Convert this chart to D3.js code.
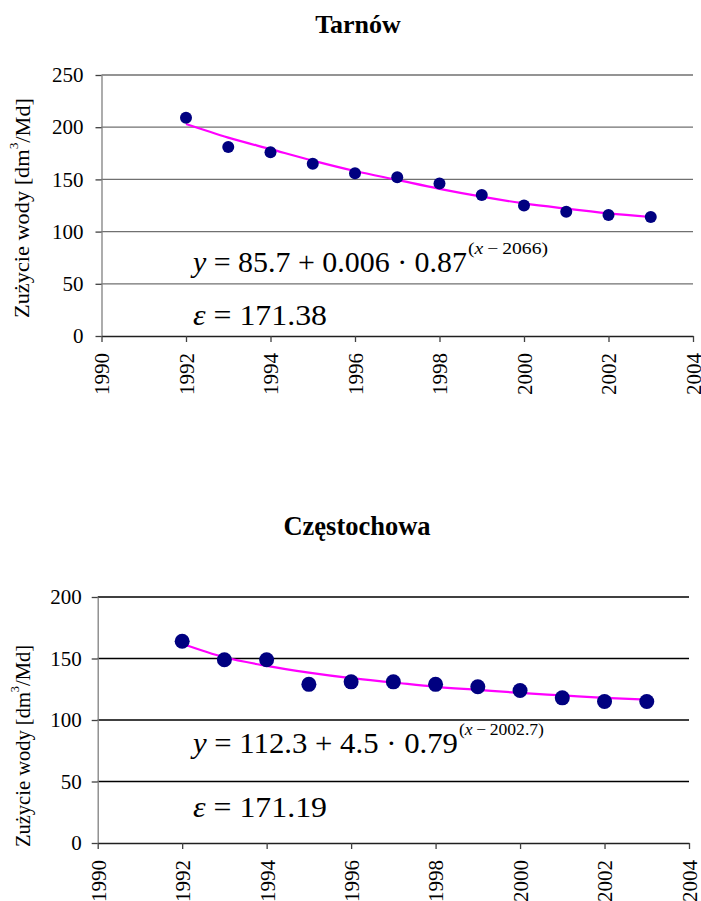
<!DOCTYPE html>
<html><head><meta charset="utf-8">
<script src="https://cdn.jsdelivr.net/npm/d3@7"></script>
<style>
body{margin:0;background:#fff;}
</style></head>
<body><svg id="c" width="701" height="901" font-family="Liberation Serif"></svg>
<script>
const years = [1992,1993,1994,1995,1996,1997,1998,1999,2000,2001,2002,2003];
const tarnowValues = [209,181,176,165,156,152,146,135,125,119,116,114];
const tarnowTrend  = [203,190,179,168,158,149.5,141,133.5,127,122,117.5,114];
const czestValues  = [164,149,149,129,131,131,129,127,124,118,115,115];
const czestTrend   = [162,151,144,138.5,134,130.5,127,124.5,122,120,118,116.5];
const xTicks = [1990,1992,1994,1996,1998,2000,2002,2004];
const tarnowYTicks = [0,50,100,150,200,250];
const czestYTicks = [0,50,100,150,200];

const FONT = "Liberation Serif";
const svg = d3.select("#c");

function drawChart(o){
  const g = svg.append("g").attr("font-family",FONT);
  const x = d3.scaleLinear().domain([1990,2004]).range([o.x0,o.x1]);
  const y = d3.scaleLinear().domain([0,o.yMax]).range([o.y1,o.y0]);
  g.selectAll(".grid").data(o.yTicks.filter(d=>d>0)).join("line")
    .attr("x1",o.x0).attr("x2",o.x1).attr("y1",d=>y(d)).attr("y2",d=>y(d))
    .attr("stroke",o.gridColor).attr("stroke-width",1.3);
  const ya = g.append("g").attr("transform",`translate(${o.x0},0)`)
    .call(d3.axisLeft(y).tickValues(o.yTicks).tickSize(6).tickPadding(o.yPad).tickSizeOuter(0));
  ya.attr("font-family",FONT);
  ya.select(".domain").attr("stroke","#808080").attr("stroke-width",1.3);
  ya.selectAll(".tick line").attr("stroke","#404040").attr("stroke-width",1.3);
  ya.selectAll("text").attr("font-size",o.fs).attr("fill","#000").attr("font-family",FONT);
  const xa = g.append("g").attr("transform",`translate(0,${o.y1})`)
    .call(d3.axisBottom(x).tickValues(xTicks).tickFormat(d3.format("d")).tickSize(6).tickSizeOuter(0));
  xa.attr("font-family",FONT);
  xa.select(".domain").attr("stroke","#202020").attr("stroke-width",1.3);
  xa.selectAll(".tick line").attr("stroke","#404040").attr("stroke-width",1.3);
  xa.selectAll("text").attr("font-size",o.fs).attr("fill","#000").attr("font-family",FONT)
    .attr("transform","rotate(-90)").attr("text-anchor","end")
    .attr("x",-o.xLabGap).attr("y",0).attr("dy","0.35em");
  const line = d3.line().x((d,i)=>x(years[i])).y(d=>y(d)).curve(d3.curveMonotoneX);
  g.append("path").datum(o.trend).attr("d",line).attr("fill","none")
    .attr("stroke","#ff00ff").attr("stroke-width",2.2);
  g.selectAll(".pt").data(o.values).join("circle")
    .attr("cx",(d,i)=>x(years[i])).attr("cy",d=>y(d)).attr("r",o.r).attr("fill","#000080");
  g.append("text").attr("x",o.titleX).attr("y",o.titleY).attr("text-anchor","middle")
    .attr("font-family",FONT).attr("font-weight","bold").attr("font-size",o.titleFs).text(o.title);
  const yl = g.append("text").attr("transform",`translate(${o.ylabX},${o.ylabY}) rotate(-90)`)
    .attr("x",-o.ylabLen/2).attr("dy","0.35em").attr("font-size",o.ylabFs).attr("font-family",FONT)
    .attr("textLength",o.ylabLen).attr("lengthAdjust","spacingAndGlyphs");
  yl.append("tspan").text("Zużycie wody [dm");
  yl.append("tspan").attr("font-size",o.ylabFs*0.6).attr("dy","-0.9em").text("3");
  yl.append("tspan").attr("dy","0.55em").text("/Md]");
  const eq = g.append("text").attr("x",o.eqX).attr("y",o.eqY).attr("font-size",29).attr("font-family",FONT)
    .attr("textLength",o.eqLen).attr("lengthAdjust","spacingAndGlyphs");
  eq.append("tspan").attr("font-style","italic").text("y");
  eq.append("tspan").text(o.eqMain);
  const ex = g.append("text").attr("x",o.eqX+o.eqLen+1).attr("y",o.eqY-18.5).attr("font-size",16).attr("font-family",FONT)
    .attr("textLength",o.expLen).attr("lengthAdjust","spacingAndGlyphs");
  ex.append("tspan").text("(");
  ex.append("tspan").attr("font-style","italic").text("x");
  ex.append("tspan").text(o.eqExp);
  const ep = g.append("text").attr("x",o.eqX).attr("y",o.epY).attr("font-size",29).attr("font-family",FONT)
    .attr("textLength",134).attr("lengthAdjust","spacingAndGlyphs");
  ep.append("tspan").attr("font-style","italic").text("ε");
  ep.append("tspan").text(o.epText);
}

drawChart({x0:101.5,x1:693,y0:75,y1:336,yMax:250,yTicks:tarnowYTicks,gridColor:"#707070",
  values:tarnowValues,trend:tarnowTrend,r:6,fs:21,xLabGap:17,yPad:12,
  title:"Tarnów",titleX:358,titleY:33,titleFs:26,
  ylabX:22,ylabY:208,ylabFs:21,ylabLen:220,
  eqX:193,eqY:272,eqLen:274,expLen:80,eqMain:" = 85.7 + 0.006 · 0.87",eqExp:"\u2009−\u20092066)",
  epY:325,epText:" = 171.38"});

drawChart({x0:97.7,x1:689,y0:597,y1:843,yMax:200,yTicks:czestYTicks,gridColor:"#000",
  values:czestValues,trend:czestTrend,r:7.5,fs:21,xLabGap:17,yPad:10,
  title:"Częstochowa",titleX:357,titleY:535,titleFs:26.5,
  ylabX:23,ylabY:746,ylabFs:20,ylabLen:202,
  eqX:193,eqY:753,eqLen:265,expLen:85,eqMain:" = 112.3 + 4.5 · 0.79",eqExp:"\u2009−\u20092002.7)",
  epY:817,epText:" = 171.19"});
</script></body></html>
